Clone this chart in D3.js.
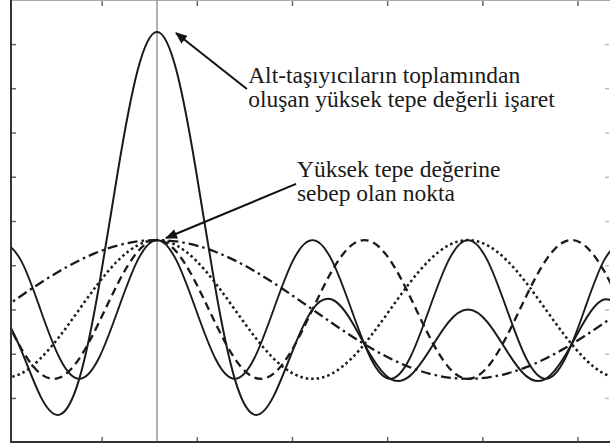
<!DOCTYPE html>
<meta charset="utf-8">
<script src="https://d3js.org/d3.v7.min.js"></script>
<style>
  body { margin: 0; background: #fff; }
</style>
<div id="my_dataviz"></div>
<script>

// phase in units of pi, one sample every pi/16
var phase = [-0.5, -0.4375, -0.375, -0.3125, -0.25, -0.1875, -0.125, -0.0625,
  0, 0.0625, 0.125, 0.1875, 0.25, 0.3125, 0.375, 0.4375,
  0.5, 0.5625, 0.625, 0.6875, 0.75, 0.8125, 0.875, 0.9375,
  1, 1.0625, 1.125, 1.1875, 1.25, 1.3125, 1.375, 1.4375, 1.5];

// sub-carriers
var carrier1 = [0, .1951, .3827, .5556, .7071, .8315, .9239, .9808, 1, .9808, .9239, .8315, .7071, .5556, .3827, .1951, 0,
  -.1951, -.3827, -.5556, -.7071, -.8315, -.9239, -.9808, -1, -.9808, -.9239, -.8315, -.7071, -.5556, -.3827, -.1951, 0];
var carrier2 = [-1, -.9239, -.7071, -.3827, 0, .3827, .7071, .9239, 1, .9239, .7071, .3827, 0, -.3827, -.7071, -.9239, -1,
  -.9239, -.7071, -.3827, 0, .3827, .7071, .9239, 1, .9239, .7071, .3827, 0, -.3827, -.7071, -.9239, -1];
var carrier3 = [0, -.5556, -.9239, -.9808, -.7071, -.1951, .3827, .8315, 1, .8315, .3827, -.1951, -.7071, -.9808, -.9239, -.5556, 0,
  .5556, .9239, .9808, .7071, .1951, -.3827, -.8315, -1, -.8315, -.3827, .1951, .7071, .9808, .9239, .5556, 0];
var carrier4 = [1, .7071, 0, -.7071, -1, -.7071, 0, .7071, 1, .7071, 0, -.7071, -1, -.7071, 0, .7071, 1,
  .7071, 0, -.7071, -1, -.7071, 0, .7071, 1, .7071, 0, -.7071, -1, -.7071, 0, .7071, 1];
// summed signal (high peak)
var total = [0, -0.5773, -1.2483, -1.515, -1, 0.312, 2.0137, 3.4433, 4, 3.4433, 2.0137, 0.312, -1, -1.515, -1.2483, -0.5773, 0,
  0.1437, -0.1659, -0.6646, -1, -0.9608, -0.5995, -0.1813, 0, -0.1813, -0.5995, -0.9608, -1, -0.6646, -0.1659, 0.1437, 0];

// unlabeled tick positions
var xTicks = [-0.178, 0.128, 0.434, 0.740, 1.046, 1.352];
var yTicks = [-1.275, -0.638, 0, 0.638, 1.275, 1.913, 2.55, 3.188, 3.825];

var width = 610, height = 448;

var svg = d3.select("#my_dataviz")
  .append("svg")
    .attr("width", width)
    .attr("height", height);

var x = d3.scaleLinear()
  .domain([-0.4695, 1.4566])
  .range([11, 610]);

var y = d3.scaleLinear()
  .domain([-1.91, 4.46])
  .range([442, 0]);

svg.append("clipPath")
    .attr("id", "clip")
  .append("rect")
    .attr("x", 11).attr("y", 0)
    .attr("width", 599).attr("height", 442);

// frame: light top edge
svg.append("line")
  .attr("x1", 11).attr("x2", 610)
  .attr("y1", 0.5).attr("y2", 0.5)
  .attr("stroke", "#aaa");

// ticks (inward, no labels)
function tickAxis(axis, tx, ty) {
  var g = svg.append("g")
    .attr("transform", "translate(" + tx + "," + ty + ")")
    .call(axis);
  g.select(".domain").remove();
  g.selectAll(".tick line").attr("stroke", "#666").attr("stroke-width", 1.5);
  return g;
}
tickAxis(d3.axisBottom(x).tickValues(xTicks).tickSize(-5).tickFormat(""), 0, 442);
tickAxis(d3.axisTop(x).tickValues(xTicks).tickSize(-5).tickFormat(""), 0, 1);
tickAxis(d3.axisLeft(y).tickValues(yTicks).tickSize(-5).tickFormat(""), 11, 0);
tickAxis(d3.axisRight(y).tickValues(yTicks).tickSize(-4).tickFormat(""), 609, 0)
  .selectAll(".tick line").attr("stroke", "#bbb");

// vertical reference line at the peak
svg.append("line")
  .attr("x1", x(0)).attr("x2", x(0))
  .attr("y1", 0).attr("y2", 442)
  .attr("stroke", "#888")
  .attr("stroke-width", 1.3);

var series = [
  {values: carrier1, dash: "10,4,2.5,4", width: 2.3},
  {values: carrier2, dash: "2.5,3", width: 2.5},
  {values: carrier3, dash: "8,5", width: 2.3},
  {values: carrier4, dash: null, width: 1.9},
  {values: total, dash: null, width: 2}
];

var line = d3.line()
  .x(function(d) { return x(d[0]); })
  .y(function(d) { return y(d[1]); })
  .curve(d3.curveNatural);

svg.append("g")
  .attr("clip-path", "url(#clip)")
  .selectAll("path")
  .data(series)
  .enter()
  .append("path")
    .attr("d", function(s) { return line(phase.map(function(p, i) { return [p, s.values[i]]; })); })
    .attr("fill", "none")
    .attr("stroke", "#1a1a1a")
    .attr("stroke-width", function(s) { return s.width; })
    .attr("stroke-dasharray", function(s) { return s.dash; });

// axes lines (left and bottom)
svg.append("line")
  .attr("x1", 11).attr("x2", 11).attr("y1", 0).attr("y2", 443)
  .attr("stroke", "#333").attr("stroke-width", 2);
svg.append("line")
  .attr("x1", 10).attr("x2", 610).attr("y1", 442).attr("y2", 442)
  .attr("stroke", "#333").attr("stroke-width", 2);

// annotations
svg.append("defs").append("marker")
    .attr("id", "arrow")
    .attr("viewBox", "0 0 12 10")
    .attr("refX", 11).attr("refY", 5)
    .attr("markerWidth", 12).attr("markerHeight", 10)
    .attr("markerUnits", "userSpaceOnUse")
    .attr("orient", "auto")
  .append("path")
    .attr("d", "M0,0 L12,5 L0,10 Z")
    .attr("fill", "#111");

var notes = [
  {lines: ["Alt-taşıyıcıların toplamından", "oluşan yüksek tepe değerli işaret"],
   tx: 0.293, ty: 3.264, from: [0.289, 3.178], to: [0.061, 3.985]},
  {lines: ["Yüksek tepe değerine", "sebep olan nokta"],
   tx: 0.450, ty: 1.909, from: [0.447, 1.809], to: [0.029, 1.03]}
];

notes.forEach(function(n) {
  svg.append("line")
    .attr("x1", x(n.from[0])).attr("y1", y(n.from[1]))
    .attr("x2", x(n.to[0])).attr("y2", y(n.to[1]))
    .attr("stroke", "#111")
    .attr("stroke-width", 2)
    .attr("marker-end", "url(#arrow)");
  var t = svg.append("text")
    .attr("x", x(n.tx))
    .attr("y", y(n.ty))
    .style("font-family", "'Liberation Serif', 'Times New Roman', serif")
    .style("font-size", "23.5px")
    .attr("fill", "#1a1a1a");
  n.lines.forEach(function(l, i) {
    t.append("tspan")
      .attr("x", x(n.tx))
      .attr("dy", i === 0 ? 0 : 24)
      .text(l);
  });
});

</script>
